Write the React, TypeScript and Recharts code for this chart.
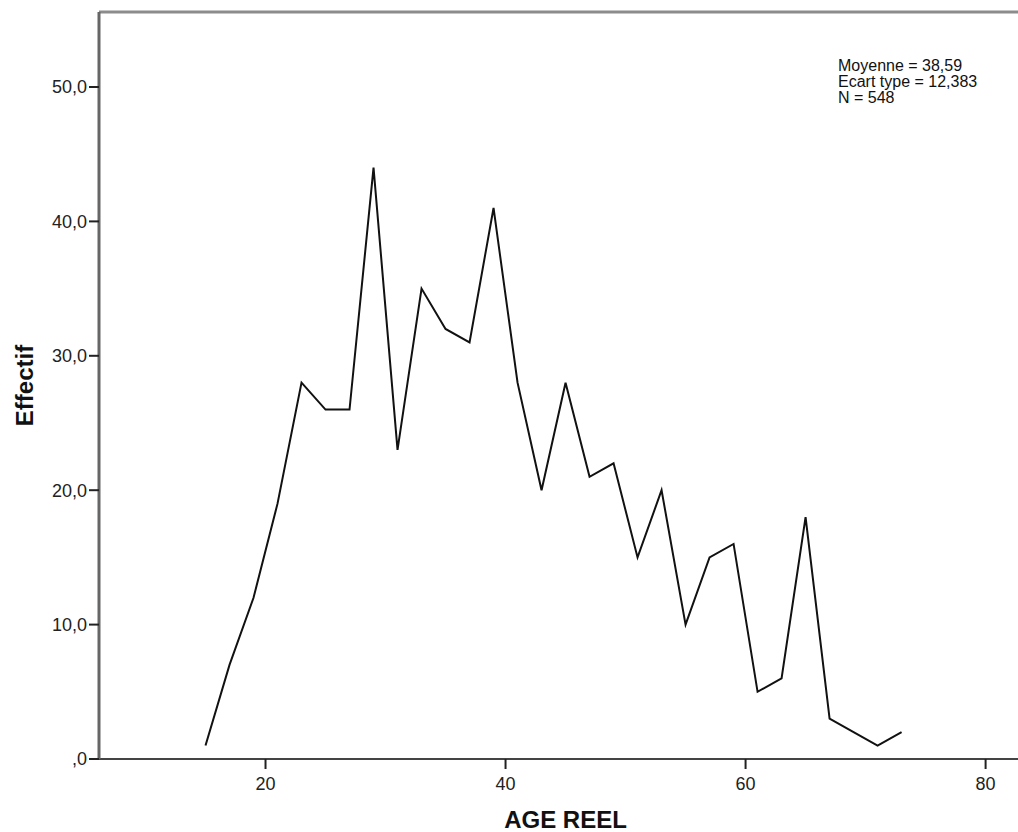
import { LineChart, Line, XAxis, YAxis, Label, ReferenceLine } from 'recharts';

const ages = [15, 17, 19, 21, 23, 25, 27, 29, 31, 33, 35, 37, 39, 41, 43, 45, 47, 49, 51, 53, 55, 57, 59, 61, 63, 65, 67, 69, 71, 73];
const counts = [1, 7, 12, 19, 28, 26, 26, 44, 23, 35, 32, 31, 41, 28, 20, 28, 21, 22, 15, 20, 10, 15, 16, 5, 6, 18, 3, 2, 1, 2];
const xTicks = [20, 40, 60, 80];
const yTicks = [0, 10, 20, 30, 40, 50];
const statsLines = ['Moyenne = 38,59', 'Ecart type = 12,383', 'N = 548'];

const data = ages.map((age, i) => ({ age, count: counts[i] }));

const FONT = '"Liberation Sans", Arial, sans-serif';
const Y_MAX = 55.58;
const fmtY = (v: number) => (v === 0 ? ',0' : v.toFixed(1).replace('.', ','));

export default function App() {
  return (
    <div style={{ position: 'relative', width: 1018, height: 832, background: '#fff' }}>
      <style>{'body{margin:0}'}</style>
      <LineChart width={1018} height={832} data={data} margin={{ top: 12, right: 0, bottom: 0, left: 0 }}>
        <XAxis
          type="number"
          dataKey="age"
          domain={[6.125, 82.7]}
          allowDataOverflow
          ticks={xTicks}
          height={73}
          tickSize={10}
          tickMargin={8}
          tick={{ fontSize: 18, fill: '#222', fontFamily: FONT }}
          tickLine={{ stroke: '#222', strokeWidth: 2 }}
          axisLine={{ stroke: '#444', strokeWidth: 2 }}
        >
          <Label
            content={({ viewBox }: any) => (
              <text
                x={viewBox.x + viewBox.width / 2 + 7}
                y={viewBox.y + 69}
                textAnchor="middle"
                fontSize={24}
                fontWeight="bold"
                fontFamily={FONT}
                fill="#111"
              >
                AGE REEL
              </text>
            )}
          />
        </XAxis>
        <YAxis
          type="number"
          domain={[0, Y_MAX]}
          allowDataOverflow
          ticks={yTicks}
          tickFormatter={fmtY}
          width={99}
          tickSize={10}
          tickMargin={2}
          tick={{ fontSize: 18, fill: '#222', fontFamily: FONT }}
          tickLine={{ stroke: '#222', strokeWidth: 2 }}
          axisLine={{ stroke: '#666', strokeWidth: 3 }}
        >
          <Label
            content={({ viewBox }: any) => {
              const cx = 24;
              const cy = viewBox.y + viewBox.height / 2;
              return (
                <text
                  x={cx}
                  y={cy}
                  transform={`rotate(-90, ${cx}, ${cy})`}
                  textAnchor="middle"
                  dominantBaseline="central"
                  fontSize={24}
                  fontWeight="bold"
                  fontFamily={FONT}
                  fill="#111"
                >
                  Effectif
                </text>
              );
            }}
          />
        </YAxis>
        {/* frame top edge */}
        <ReferenceLine y={Y_MAX} stroke="#8c8c8c" strokeWidth={3} ifOverflow="visible" />
        <Line
          type="linear"
          dataKey="count"
          stroke="#111"
          strokeWidth={2}
          dot={false}
          activeDot={false}
          isAnimationActive={false}
        />
      </LineChart>
      <div
        style={{
          position: 'absolute',
          left: 838,
          top: 58,
          fontFamily: FONT,
          fontSize: 16,
          lineHeight: '16px',
          color: '#111',
          whiteSpace: 'nowrap',
        }}
      >
        {statsLines.map((s) => (
          <div key={s}>{s}</div>
        ))}
      </div>
    </div>
  );
}
